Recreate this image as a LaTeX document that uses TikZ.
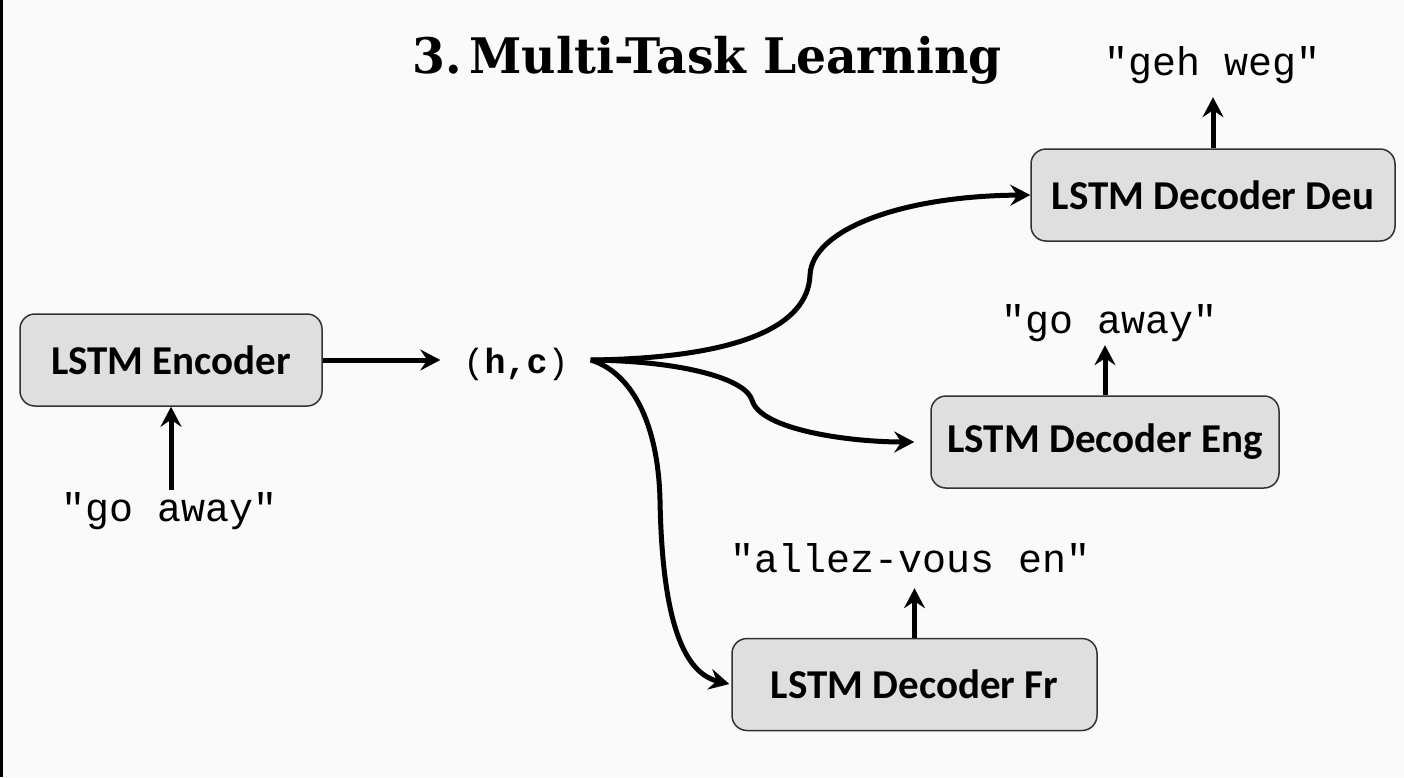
\documentclass[tikz,border=0pt]{standalone}
\usepackage{fontspec}
\usetikzlibrary{arrows.meta}
\newfontfamily\boxfont{Carlito}
\newfontfamily\lblfont{Liberation Mono}
\newfontfamily\ttlfont{DejaVu Serif}
\definecolor{bgcol}{RGB}{250,250,250}
\definecolor{boxfill}{RGB}{224,223,224}
\definecolor{boxline}{RGB}{50,50,50}
\tikzset{
  lstmbox/.style={draw=boxline, line width=1.5pt, fill=boxfill, rounded corners=15pt,
    minimum height=92pt, inner sep=0pt, font=\boxfont\bfseries\fontsize{41}{48}\selectfont},
  lbl/.style={inner sep=0pt, anchor=base, text height=28pt, text depth=0pt,
    font=\lblfont\fontsize{40}{48}\selectfont},
  arr/.style={line width=5pt, -{Stealth[length=20pt,width=21pt,inset=7pt]}},
}
\begin{document}
\begin{tikzpicture}[x=1pt,y=-1pt]
\fill[bgcol] (0,0) rectangle (1404,777);
\useasboundingbox (0,0) rectangle (1404,777);
\fill[black] (0,0) rectangle (2.5,777);

\node[anchor=base, inner sep=0pt, font=\ttlfont\bfseries\fontsize{49}{56}\selectfont] (title) at (707,73) {\scalebox{0.965}[1]{3.\,Multi-Task Learning}};

\node[lstmbox, minimum width=302pt] (enc) at (171,360) {LSTM Encoder};
\node[lstmbox, minimum width=364pt] (deu) at (1213,195) {LSTM Decoder Deu};
\node[lstmbox, minimum width=348pt] (eng) at (1105,442) {LSTM Decoder Eng};
\node[lstmbox, minimum width=365pt] (fr) at (914.5,684.5) {LSTM Decoder Fr};

\node[lbl] (goin) at (170,521) {"go away"};
\node[lbl] (geh) at (1212,75) {"geh weg"};
\node[lbl] (goout) at (1110,333) {"go away"};
\node[lbl] (allez) at (911,572) {"allez-vous en"};
\node[inner ysep=0pt, inner xsep=22pt, anchor=base, font=\lblfont\fontsize{35}{42}\selectfont] (hc) at (516,373) {(\textbf{h,c})};

\draw[arr, shorten <=3pt] (goin.north -| enc.south) -- (enc.south);
\draw[arr, shorten >=1pt] (enc.east) -- (enc.east -| hc.west);
\draw[arr, shorten >=22pt] (deu.north) -- (deu.north |- geh.south);
\draw[arr, shorten >=12pt] (eng.north) -- (eng.north |- goout.south);
\draw[arr, shorten >=16pt] (fr.north) -- (fr.north |- allez.south);

\coordinate (br) at (enc.east -| hc.east);
\draw[arr] (br) .. controls (740,358) and (808,326) .. (810,275)
  .. controls (812,230) and (900,196) .. (deu.west);
\draw[arr, shorten >=16pt] (br) .. controls (680,361) and (745,378) .. (752,400)
  .. controls (760,430) and (850,442) .. (eng.west);
\draw[arr, shorten >=2pt] (br) .. controls (630,372) and (658,420) .. (660,500)
  .. controls (662,610) and (680,672) .. (fr.west);
\end{tikzpicture}
\end{document}
